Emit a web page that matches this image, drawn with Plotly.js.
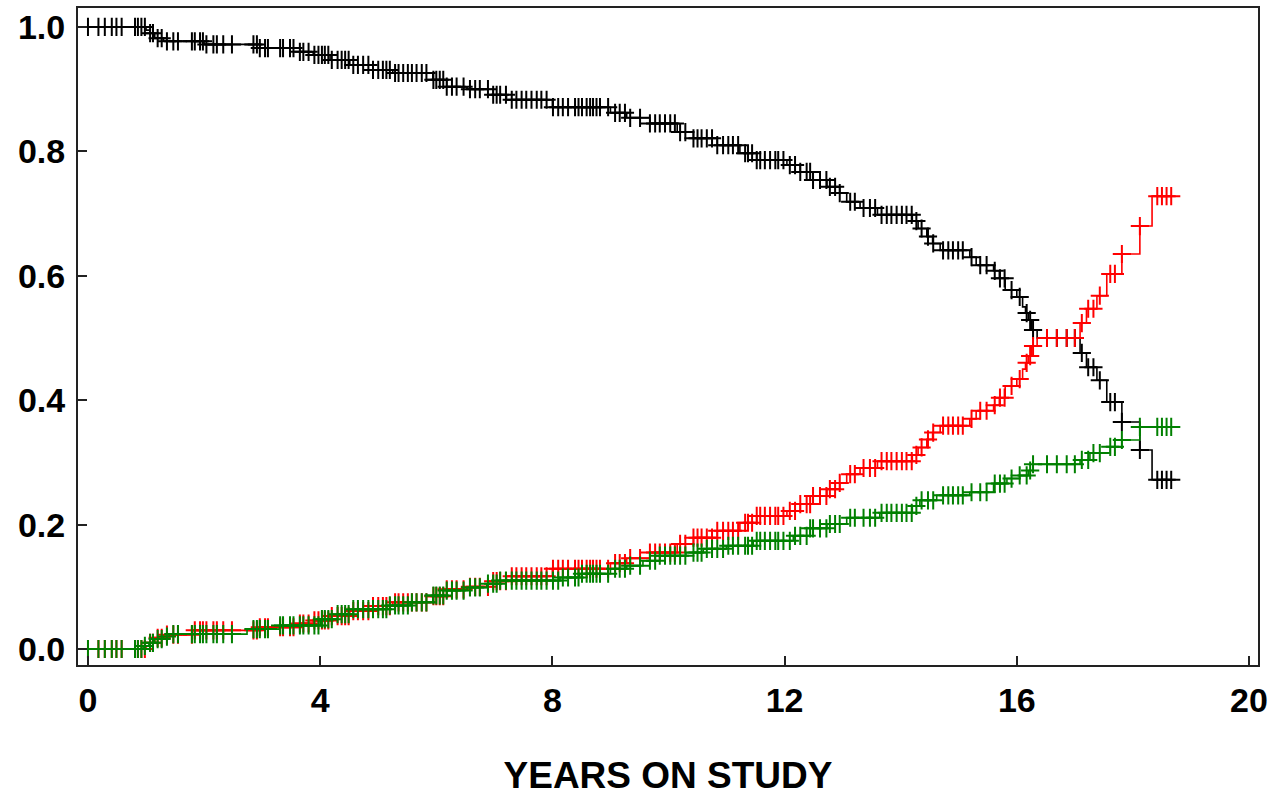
<!DOCTYPE html>
<html>
<head>
<meta charset="utf-8">
<script src="https://cdn.plot.ly/plotly-3.0.1.min.js"></script>
<style>
  html, body { margin: 0; padding: 0; background: #ffffff; }
  #chart { width: 1276px; height: 798px; }
</style>
</head>
<body>
<div id="chart"></div>
<script>
// ---- Data ----
// Black curve (survival): step start times and values
const blackTimes = [0, 1.0, 1.07, 1.15, 1.3, 2.0, 2.96, 3.65, 3.88, 4.17, 4.51, 4.91, 5.25, 5.94, 6.18, 6.53, 6.98, 7.21, 8.0, 9.0, 9.28, 9.68, 10.15, 10.43, 10.84, 11.23, 11.52, 12.04, 12.27, 12.49, 12.73, 12.95, 13.07, 13.3, 13.6, 14.2, 14.3, 14.45, 14.55, 14.68, 15.19, 15.3, 15.6, 15.7, 15.8, 16.0, 16.1, 16.15, 16.2, 16.25, 16.35, 17.09, 17.2, 17.38, 17.55, 17.81, 18.12, 18.33, 18.68];
const blackValues = [1.0, 0.995, 0.99, 0.982, 0.977, 0.972, 0.966, 0.96, 0.955, 0.947, 0.939, 0.931, 0.926, 0.915, 0.904, 0.9, 0.891, 0.883, 0.871, 0.862, 0.854, 0.845, 0.831, 0.821, 0.81, 0.797, 0.786, 0.778, 0.767, 0.754, 0.743, 0.733, 0.719, 0.709, 0.698, 0.688, 0.676, 0.663, 0.652, 0.641, 0.63, 0.617, 0.608, 0.596, 0.577, 0.566, 0.55, 0.54, 0.529, 0.513, 0.5, 0.476, 0.453, 0.432, 0.397, 0.365, 0.32, 0.272, 0.272];

// Red curve (cumulative incidence, all events)
const redTimes = [0, 1.0, 1.07, 1.15, 1.3, 1.8, 2.96, 3.65, 3.88, 4.17, 4.51, 4.91, 5.25, 5.94, 6.18, 6.53, 6.98, 7.21, 8.0, 9.0, 9.28, 9.68, 10.15, 10.43, 10.84, 11.23, 11.52, 12.04, 12.27, 12.49, 12.73, 12.95, 13.07, 13.3, 13.6, 14.2, 14.3, 14.45, 14.55, 14.68, 15.19, 15.3, 15.6, 15.7, 15.8, 16.0, 16.1, 16.15, 16.2, 16.25, 16.35, 17.09, 17.2, 17.38, 17.55, 17.81, 18.12, 18.33, 18.68];
const redValues = [0, 0.005, 0.01, 0.018, 0.023, 0.03, 0.035, 0.041, 0.046, 0.053, 0.061, 0.069, 0.075, 0.085, 0.096, 0.1, 0.109, 0.117, 0.129, 0.138, 0.146, 0.155, 0.169, 0.179, 0.19, 0.203, 0.214, 0.222, 0.233, 0.246, 0.257, 0.267, 0.281, 0.291, 0.302, 0.312, 0.324, 0.337, 0.348, 0.359, 0.37, 0.383, 0.392, 0.404, 0.423, 0.434, 0.45, 0.46, 0.471, 0.487, 0.5, 0.524, 0.547, 0.568, 0.603, 0.635, 0.68, 0.728, 0.728];

// Green curve (cumulative incidence, one cause)
const greenTimes = [0, 0.95, 1.05, 1.15, 1.3, 1.4, 2.74, 3.3, 4.0, 4.3, 4.57, 5.15, 5.55, 5.94, 6.18, 6.53, 6.87, 7.1, 8.13, 8.47, 9.0, 9.28, 9.56, 9.85, 10.3, 10.6, 11.0, 11.46, 12.15, 12.44, 12.73, 13.07, 13.64, 14.2, 14.33, 14.62, 15.19, 15.6, 15.83, 16.05, 16.2, 16.28, 17.09, 17.26, 17.61, 17.81, 18.12, 18.68];
const greenValues = [0, 0.005, 0.01, 0.016, 0.02, 0.024, 0.032, 0.038, 0.048, 0.056, 0.064, 0.07, 0.075, 0.086, 0.094, 0.099, 0.105, 0.11, 0.115, 0.121, 0.129, 0.134, 0.142, 0.15, 0.155, 0.161, 0.166, 0.174, 0.182, 0.194, 0.201, 0.211, 0.219, 0.23, 0.239, 0.247, 0.252, 0.266, 0.274, 0.279, 0.287, 0.297, 0.304, 0.315, 0.325, 0.336, 0.357, 0.357];

// Censoring times (shared by all three curves)
const censorTimes = [0.0, 0.18, 0.29, 0.41, 0.49, 0.58, 0.81, 0.86, 0.92, 0.98, 1.07, 1.12, 1.2, 1.27, 1.36, 1.47, 1.55, 1.79, 1.84, 1.93, 1.98, 2.04, 2.16, 2.22, 2.33, 2.48, 2.85, 2.91, 2.96, 3.05, 3.1, 3.31, 3.36, 3.48, 3.54, 3.65, 3.71, 3.8, 3.9, 3.97, 4.03, 4.08, 4.14, 4.2, 4.3, 4.37, 4.43, 4.49, 4.57, 4.65, 4.74, 4.83, 4.91, 5.0, 5.08, 5.14, 5.2, 5.29, 5.35, 5.43, 5.51, 5.58, 5.66, 5.75, 5.83, 5.95, 6.0, 6.06, 6.12, 6.18, 6.27, 6.35, 6.47, 6.58, 6.67, 6.75, 6.89, 6.98, 7.04, 7.1, 7.2, 7.3, 7.38, 7.47, 7.55, 7.64, 7.73, 7.81, 7.9, 8.01, 8.1, 8.18, 8.27, 8.39, 8.45, 8.51, 8.59, 8.65, 8.7, 8.76, 8.82, 8.96, 9.08, 9.16, 9.25, 9.34, 9.51, 9.68, 9.77, 9.85, 9.94, 10.03, 10.11, 10.2, 10.29, 10.43, 10.5, 10.57, 10.66, 10.75, 10.84, 10.94, 11.03, 11.11, 11.2, 11.32, 11.37, 11.44, 11.52, 11.58, 11.66, 11.75, 11.84, 11.89, 11.98, 12.09, 12.18, 12.27, 12.38, 12.44, 12.49, 12.61, 12.72, 12.78, 12.87, 12.95, 13.13, 13.21, 13.36, 13.47, 13.56, 13.67, 13.76, 13.84, 13.93, 14.02, 14.1, 14.19, 14.27, 14.36, 14.47, 14.56, 14.73, 14.82, 14.9, 14.99, 15.07, 15.22, 15.37, 15.48, 15.62, 15.71, 15.79, 15.91, 16.05, 16.17, 16.23, 16.28, 16.52, 16.69, 16.86, 17.0, 17.12, 17.23, 17.32, 17.43, 17.61, 17.69, 17.81, 18.12, 18.42, 18.5, 18.58, 18.66];

const xTickValues = [0, 4, 8, 12, 16, 20];
const yTickValues = [0.0, 0.2, 0.4, 0.6, 0.8, 1.0];
const xAxisTitle = 'YEARS ON STUDY';

// ---- Helpers ----
function stepValueAt(times, values, t) {
  let v = values[0];
  for (let i = 0; i < times.length; i++) {
    if (times[i] <= t) v = values[i]; else break;
  }
  return v;
}

function seriesTraces(times, values, color) {
  const line = {
    x: times, y: values, type: 'scatter', mode: 'lines',
    line: { color: color, width: 1.6, shape: 'hv' },
    hoverinfo: 'skip', showlegend: false
  };
  const marks = {
    x: censorTimes,
    y: censorTimes.map(t => stepValueAt(times, values, t)),
    type: 'scatter', mode: 'markers',
    marker: { symbol: 'cross-thin-open', size: 13, color: color, line: { color: color, width: 2 } },
    hoverinfo: 'skip', showlegend: false
  };
  return [line, marks];
}

const data = [].concat(
  seriesTraces(blackTimes, blackValues, '#000000'),
  seriesTraces(redTimes, redValues, '#ff0000'),
  seriesTraces(greenTimes, greenValues, '#008000')
);

const tickFont = { family: 'Liberation Sans, Arial, sans-serif', size: 34, color: '#000000', weight: 'bold' };

const layout = {
  width: 1276, height: 798,
  margin: { l: 78, r: 18, t: 8, b: 133 },
  paper_bgcolor: '#ffffff', plot_bgcolor: '#ffffff',
  showlegend: false,
  xaxis: {
    range: [-0.172, 20.155],
    tickvals: xTickValues,
    ticktext: xTickValues.map(String),
    ticks: 'inside', ticklen: 9, tickwidth: 2, tickcolor: '#222222',
    showline: true, linecolor: '#222222', linewidth: 2, mirror: true,
    showgrid: false, zeroline: false,
    tickfont: tickFont,
    ticklabelstandoff: 4,
    title: { text: xAxisTitle, font: { family: 'Liberation Sans, Arial, sans-serif', size: 37, color: '#000000', weight: 'bold' }, standoff: 44 }
  },
  yaxis: {
    range: [-0.0257, 1.0305],
    tickvals: yTickValues,
    ticktext: yTickValues.map(v => v.toFixed(1)),
    ticks: 'inside', ticklen: 9, tickwidth: 2, tickcolor: '#222222',
    showline: true, linecolor: '#222222', linewidth: 2, mirror: true,
    showgrid: false, zeroline: false,
    tickfont: tickFont,
    ticklabelstandoff: 4
  }
};

Plotly.newPlot('chart', data, layout, { displayModeBar: false, staticPlot: true });
</script>
</body>
</html>
